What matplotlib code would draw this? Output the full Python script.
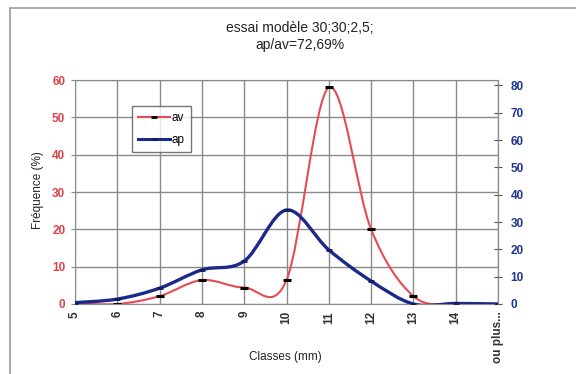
import numpy as np
import matplotlib
matplotlib.use("Agg")
import matplotlib.pyplot as plt
from matplotlib.path import Path
from matplotlib.patches import PathPatch, Rectangle
from matplotlib.lines import Line2D

plt.rcParams['font.family'] = ['Liberation Sans', 'DejaVu Sans']

# données
classes = ['5', '6', '7', '8', '9', '10', '11', '12', '13', '14', 'ou plus...']
av = [0.2, 0.0, 2.1, 6.4, 4.4, 6.4, 58.0, 20.0, 2.1, 0.0, 0.0]      # axe gauche
ap = [0.5, 1.8, 5.8, 12.5, 15.7, 34.4, 19.8, 8.4, 0.0, 0.2, 0.0]    # axe droit

RED = '#e54b53'
BLUE = '#1b2a8a'
GRID = '#8a8a8a'


def smooth_patch(x, y, color, lw):
    # courbe lissée façon Excel (Bezier)
    n = len(x)
    verts = [(x[0], y[0])]
    codes = [Path.MOVETO]
    for i in range(n - 1):
        a = max(i - 1, 0)
        b = min(i + 2, n - 1)
        c1 = (x[i] + (x[i + 1] - x[a]) / 6, y[i] + (y[i + 1] - y[a]) / 6)
        c2 = (x[i + 1] - (x[b] - x[i]) / 6, y[i + 1] - (y[b] - y[i]) / 6)
        verts += [c1, c2, (x[i + 1], y[i + 1])]
        codes += [Path.CURVE4] * 3
    return PathPatch(Path(verts, codes), fill=False, edgecolor=color, lw=lw,
                     capstyle='round', joinstyle='round')


xs = np.arange(len(classes))

fig = plt.figure(figsize=(5.76, 3.74), dpi=100)
fig.patches.append(Rectangle((10 / 576, -0.1), 1.2, 1 - 8 / 374 + 0.1,
                             transform=fig.transFigure, fill=False,
                             edgecolor='#9a9a9a', lw=1.2))

ax = fig.add_axes([75 / 576, 1 - 304 / 374, (498 - 75) / 576, (304 - 80) / 374])
ax2 = ax.twinx()

# av
ax.add_patch(smooth_patch(xs, av, RED, 1.5))
ax.plot(xs, av, ls='none', marker='_', ms=5.5, mew=2.2, color='black')

# ap
ax2.add_patch(smooth_patch(xs, ap, BLUE, 2.4))
ax2.plot(xs, ap, ls='none', marker='_', ms=5, mew=2, color='#131c60')

ax.set_xlim(0, len(classes) - 1)
ax.set_ylim(0, 60)
ax2.set_ylim(0, 82)
ax.set_yticks(range(0, 61, 10))
ax2.set_yticks(range(0, 81, 10))
ax.set_xticks(xs)
ax.set_xticklabels(classes, rotation=90, fontsize=8.5, fontweight='bold', color='#333333')

ax.grid(True, color=GRID, lw=1.0)
ax.set_axisbelow(True)
for s in ax.spines.values():
    s.set_color(GRID)
for s in ax2.spines.values():
    s.set_visible(False)
ax2.spines['right'].set_visible(True)
ax2.spines['right'].set_color(GRID)

ax.tick_params(axis='y', colors=GRID, length=3, pad=4, labelsize=8.5, labelcolor='#d9434c')
ax.tick_params(axis='x', length=0, pad=5)
ax2.tick_params(axis='y', direction='inout', length=6, color='#555555', pad=6,
                labelsize=8.5, labelcolor='#1f3590')
for t in ax.get_yticklabels() + ax2.get_yticklabels():
    t.set_fontweight('bold')

# légende
h1 = Line2D([], [], color=RED, lw=1.5, marker='_', ms=5, mew=2, mec='black')
h2 = Line2D([], [], color=BLUE, lw=2.2, marker='_', ms=5, mew=2, mec='#131c60')
ax2.legend([h1, h2], ['av', 'ap'], loc='upper left', bbox_to_anchor=(0.135, 0.885),
           frameon=True, fancybox=False, edgecolor='#555555', fontsize=8.5,
           handlelength=2.7, handletextpad=0.15, borderpad=0.5, labelspacing=0.9,
           borderaxespad=0)

fig.text(300 / 576, 1 - 28 / 374, 'essai modèle 30;30;2,5;', ha='center', va='center',
         fontsize=10, color='#222222')
fig.text(300 / 576, 1 - 45 / 374, 'ap/av=72,69%', ha='center', va='center',
         fontsize=10, color='#222222')
fig.text(38 / 576, 1 - 190 / 374, 'Fréquence (%)', rotation=90, ha='center', va='center',
         fontsize=8.5, color='#222222')
fig.text(285 / 576, 1 - 357 / 374, 'Classes (mm)', ha='center', va='center',
         fontsize=8.5, color='#222222')

fig.savefig('out.png', dpi=100)
